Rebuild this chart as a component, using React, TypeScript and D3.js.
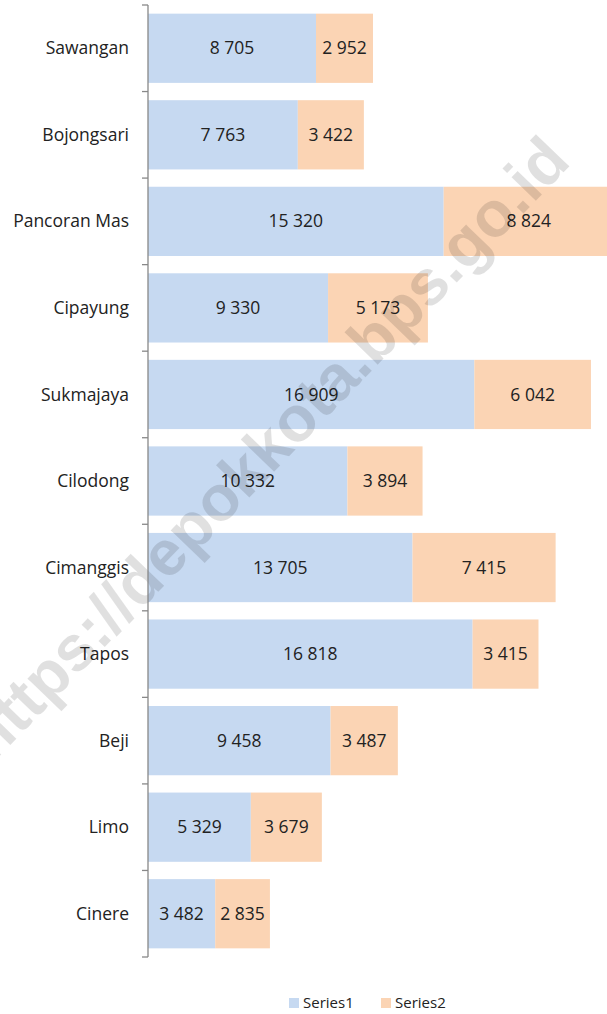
import React from 'react';
import * as d3 from 'd3';

const districts = ['Sawangan', 'Bojongsari', 'Pancoran Mas', 'Cipayung', 'Sukmajaya', 'Cilodong', 'Cimanggis', 'Tapos', 'Beji', 'Limo', 'Cinere'];
const series1 = [8705, 7763, 15320, 9330, 16909, 10332, 13705, 16818, 9458, 5329, 3482];
const series2 = [2952, 3422, 8824, 5173, 6042, 3894, 7415, 3415, 3487, 3679, 2835];
const seriesNames = ['Series1', 'Series2'];
const seriesColors = ['#c6d9f1', '#fbd4b4'];

const W = 607;
const H = 1014;
const FONT = '"Open Sans", sans-serif';

const fmt = (v: number) => d3.format(',')(v).replace(/,/g, ' ');

const App = () => {
  const x = d3.scaleLinear().domain([0, 25000]).range([148, 630.5]);
  const y = d3.scaleBand().domain(districts).range([5, 957]).paddingInner(0.2).paddingOuter(0.1);
  const step = y.step();

  const rows = districts.map((d, i) => ({ name: d, s1: series1[i], s2: series2[i] }));

  return (
    <svg width={W} height={H} style={{ position: 'absolute', left: 0, top: 0, background: '#fff' }}>
      {/* bars */}
      {rows.map((r) => {
        const yy = y(r.name) as number;
        const h = y.bandwidth();
        const x0 = x(0), x1 = x(r.s1), x2 = x(r.s1 + r.s2);
        return (
          <g key={r.name}>
            <rect x={x0} y={yy} width={x1 - x0} height={h} fill={seriesColors[0]} />
            <rect x={x1} y={yy} width={x2 - x1} height={h} fill={seriesColors[1]} />
            <text x={(x0 + x1) / 2} y={yy + h / 2} dy="0.35em" textAnchor="middle" fontFamily={FONT} fontSize={17.5} fill="#222">{fmt(r.s1)}</text>
            <text x={(x1 + x2) / 2} y={yy + h / 2} dy="0.35em" textAnchor="middle" fontFamily={FONT} fontSize={17.5} fill="#222">{fmt(r.s2)}</text>
            <text x={129} y={yy + h / 2} dy="0.35em" textAnchor="end" fontFamily={FONT} fontSize={17.5} fill="#222">{r.name}</text>
          </g>
        );
      })}

      {/* watermark */}
      <text
        transform="translate(266,448) rotate(-46)"
        textAnchor="middle"
        dy="0.35em"
        fontFamily={'"Liberation Sans", Arial, sans-serif'}
        fontWeight="bold"
        fontSize={64}
        fill="#000"
        fillOpacity={0.12}
      >
        https://depokkota.bps.go.id
      </text>

      {/* category axis */}
      <line x1={148} x2={148} y1={5} y2={957} stroke="#888" strokeWidth={1.3} />
      {districts.map((d, i) => (
        <line key={d} x1={142} x2={148} y1={5 + i * step} y2={5 + i * step} stroke="#888" strokeWidth={1.3} />
      ))}
      <line x1={142} x2={148} y1={957} y2={957} stroke="#888" strokeWidth={1.3} />

      {/* legend */}
      {seriesNames.map((s, i) => (
        <g key={s} transform={`translate(${289 + i * 92},1003)`}>
          <rect x={0} y={-5} width={10} height={10} fill={seriesColors[i]} />
          <text x={14} dy="0.35em" fontFamily={FONT} fontSize={15} fill="#222">{s}</text>
        </g>
      ))}
    </svg>
  );
};

export default App;
